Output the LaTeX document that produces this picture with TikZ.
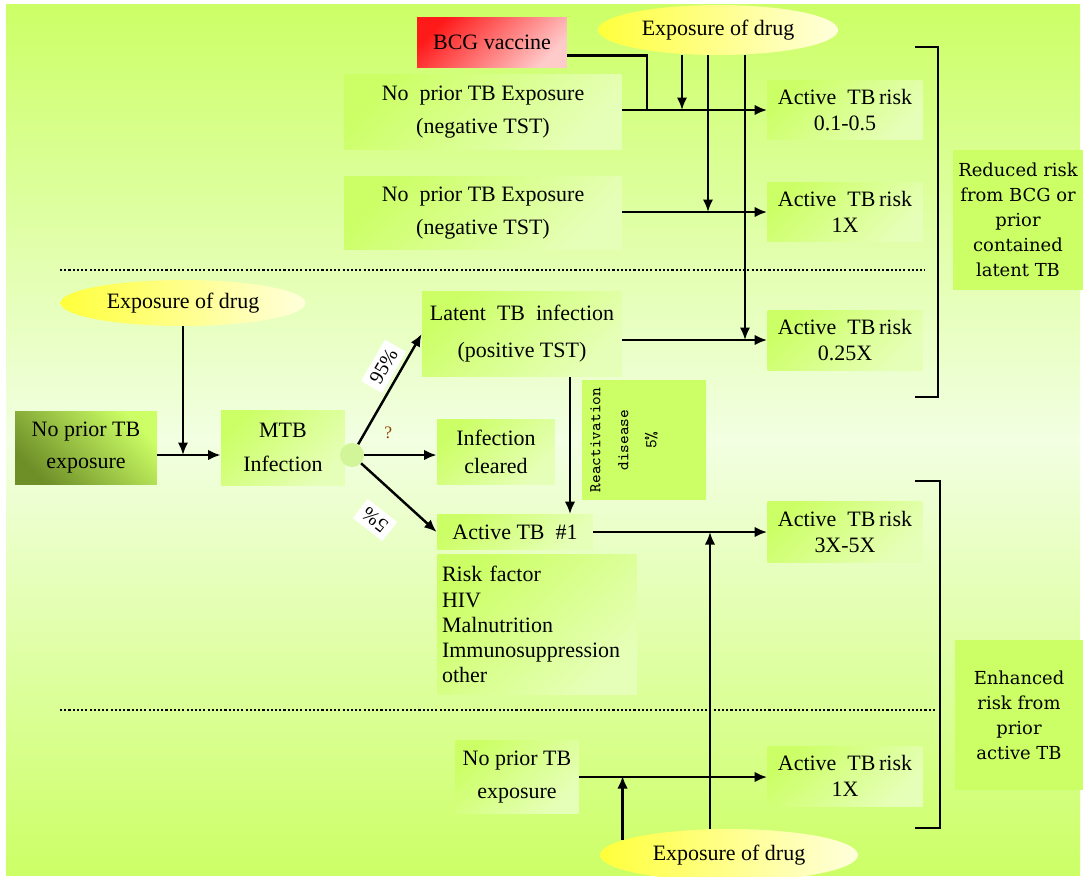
\documentclass[tikz,border=0pt]{standalone}
\usepackage{fontspec}
\setmainfont{Liberation Serif}
\newfontfamily\sidefont{DejaVu Serif}
\usetikzlibrary{shapes.geometric,arrows.meta}
\definecolor{tbgreen}{HTML}{CCFF66}
\definecolor{tbpale}{HTML}{F2FFE2}
\definecolor{tblight}{HTML}{E6FFB8}
\definecolor{tbolive}{HTML}{6E8E28}
\definecolor{hubgreen}{HTML}{D2F59A}
\definecolor{bcgred}{HTML}{FF1A1A}
\definecolor{bcgpink}{HTML}{FFCACA}
\definecolor{drugyellow}{HTML}{FFFF3C}
\definecolor{drugpale}{HTML}{FFFFDC}
\begin{document}
\begin{tikzpicture}[x=0.02cm,y=-0.02cm,
  greenbox/.style={top color=tbgreen,bottom color=tblight,shading angle=45,
    align=center,inner sep=1pt,font=\fontsize{12.5}{18.7}\selectfont},
  riskbox/.style={greenbox,minimum width=3.1cm,minimum height=1.2cm,
    font=\fontsize{12.5}{14.7}\selectfont},
  drugoval/.style={ellipse,left color=drugyellow,right color=drugpale,
    inner sep=0pt,font=\fontsize{12.5}{15}\selectfont},
  sidebox/.style={fill=tbgreen,align=center,inner sep=1pt,
    font=\sidefont\fontsize{10.2}{14.2}\selectfont},
  flow/.style={-{Latex[length=2.5mm,width=2.1mm]},line width=1.4pt},
  plainline/.style={line width=1.4pt},
  divider/.style={line width=1.4pt,dash pattern=on 1.2pt off 1.2pt},
  bracket/.style={line width=1.5pt}]
\useasboundingbox (0,0) rectangle (1085,876);
\shade [top color=tbgreen,bottom color=tbgreen,middle color=tbpale] (6,4) rectangle (1080,875);
\draw[divider] (60,270) -- (925,270);
\draw[divider] (60,710) -- (935,710);
% upper part
\node[top color=bcgred,bottom color=bcgpink,shading angle=45,minimum width=3cm,
  minimum height=1.02cm,font=\fontsize{12.5}{15}\selectfont] (bcg) at (492,42.5) {BCG vaccine};
\node[drugoval,minimum width=4.8cm,minimum height=1cm] (drugtop) at (718,30) {Exposure of drug};
\node[greenbox,minimum width=5.54cm,minimum height=1.5cm] (neg1) at (483,112) {No\ \ prior TB Exposure\\(negative TST)};
\node[greenbox,minimum width=5.54cm,minimum height=1.48cm] (neg2) at (483,213) {No\ \ prior TB Exposure\\(negative TST)};
\node[riskbox] (risk1) at (845,110) {Active\ \ TB\,risk\\0.1-0.5};
\node[riskbox] (risk2) at (845,212) {Active\ \ TB\,risk\\1X};
\node[sidebox,minimum width=2.6cm,minimum height=2.8cm] (reduced) at (1018,220) {Reduced risk\\from BCG or\\prior\\contained\\latent TB};
\coordinate (bcgjoin) at (647,110);
% middle part
\node[drugoval,minimum width=4.9cm,minimum height=0.92cm] (drugleft) at (183,303) {Exposure of drug};
\node[top color=tbgreen,bottom color=tbolive,shading angle=-45,minimum width=2.84cm,minimum height=1.46cm,
  align=center,font=\fontsize{12.5}{18.7}\selectfont] (noprior) at (86,447.5) {No prior TB\\exposure};
\node[greenbox,minimum width=2.48cm,minimum height=1.5cm,font=\fontsize{12.5}{19.3}\selectfont] (mtb) at (283,447.5) {MTB\\Infection};
\node[circle,fill=hubgreen,minimum size=0.48cm,inner sep=0pt] (hub) at (352,455) {};
\node[greenbox,minimum width=4cm,minimum height=1.72cm,font=\fontsize{12.5}{21}\selectfont] (latent) at (522,334) {Latent\ \ TB\ \ infection\\(positive TST)};
\node[greenbox,minimum width=2.36cm,minimum height=1.3cm,font=\fontsize{12.5}{15.9}\selectfont] (cleared) at (496,452) {Infection\\cleared};
\node[fill=tbgreen,minimum width=2.48cm,minimum height=2.42cm] (react) at (644,440) {};
\node[rotate=90,align=center,font=\ttfamily\fontsize{9.4}{16}\selectfont] (reacttxt) at (624,440) {Reactivation\\disease\\5\%};
\node[greenbox,minimum width=3.12cm,minimum height=0.7cm] (active1) at (515,532) {Active TB\ \ \#1};
\node[greenbox,minimum width=3.98cm,minimum height=2.82cm,text width=3.8cm,align=left,
  font=\fontsize{12.5}{14.3}\selectfont] (riskf) at (537,624.5) {Risk factor\\HIV\\Malnutrition\\Immunosuppression\\other};
\node[riskbox] (risk3) at (845,340) {Active\ \ TB\,risk\\0.25X};
\node[riskbox,minimum height=1.22cm] (risk4) at (845,532) {Active\ \ TB\,risk\\3X-5X};
\node[rotate=142,fill=white,inner sep=3pt,font=\fontsize{11.5}{13}\selectfont] (p5) at (375,520) {5\%};
% lower part
\node[greenbox,minimum width=2.46cm,minimum height=1.46cm] (noprior2) at (517,777) {No prior TB\\exposure};
\node[riskbox] (risk5) at (845,776) {Active\ \ TB\,risk\\1X};
\node[drugoval,minimum width=5.16cm,minimum height=1.04cm] (drugbot) at (729,855) {Exposure of drug};
\node[sidebox,minimum width=2.56cm,minimum height=3cm] (enhanced) at (1019,715) {Enhanced\\risk from\\prior\\active TB};
% connectors
\draw[plainline] ([yshift=-0.26cm]bcg.east) -| (bcgjoin);
\draw[flow] (neg1.east |- risk1.west) -- (risk1.west);
\draw[flow] ([xshift=-0.72cm]drugtop.south) -- ([xshift=-0.72cm]drugtop.south |- risk1.west);
\draw[flow] ([xshift=-0.2cm]drugtop.south) -- ([xshift=-0.2cm]drugtop.south |- risk2.west);
\draw[flow] ([xshift=0.54cm]drugtop.south) -- ([xshift=0.54cm]drugtop.south |- risk3.west);
\draw[flow] (neg2.east |- risk2.west) -- (risk2.west);
\draw[flow] (latent.east |- risk3.west) -- (risk3.west);
\draw[flow] (drugleft.south) -- (drugleft.south |- hub);
\draw[flow] (noprior.east |- hub) -- (mtb.west |- hub);
\draw[flow] (hub) -- (latent.west) node[pos=0.63,sloped,above=2pt,fill=white,inner sep=3pt,
  font=\fontsize{11.5}{13}\selectfont] (p95) {95\%};
\draw[flow] (hub) -- (cleared.west |- hub) node[pos=0.33,above=5pt,text=orange!55!black,
  font=\fontsize{10}{12}\selectfont] (pq) {?};
\draw[flow] (hub) -- (active1.west);
\draw[flow] ([xshift=0.96cm]latent.south) -- ([xshift=0.96cm]latent.south |- active1.north);
\draw[flow] (active1) -- (risk4);
\draw[flow] ([xshift=-0.38cm]drugbot.north) -- ([xshift=-0.38cm]drugbot.north |- risk4.west);
\draw[flow] (drugbot.172) -- (drugbot.172 |- risk5.west);
\draw[flow] (noprior2) -- (noprior2 -| risk5.west);
% brackets
\draw[bracket] (915,47) -- (938,47) -- (938,397) -- (915,397);
\draw[bracket] (915,481) -- (940,481) -- (940,828) -- (915,828);
\end{tikzpicture}
\end{document}
